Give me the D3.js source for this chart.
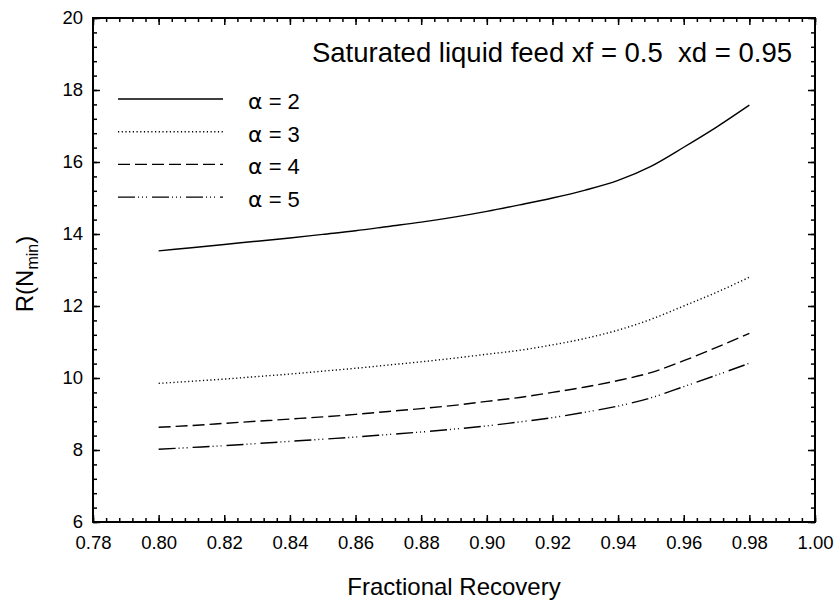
<!DOCTYPE html>
<meta charset="utf-8">
<style>
  body { margin: 0; background: #fff; }
  svg text { font-family: "Liberation Sans", Arial, sans-serif; fill: #000; }
</style>
<script src="https://d3js.org/d3.v7.min.js"></script>
<div id="chart"></div>
<script>
// data
var recovery = [0.80, 0.81, 0.82, 0.83, 0.84, 0.85, 0.86, 0.87, 0.88, 0.89,
                0.90, 0.91, 0.92, 0.93, 0.94, 0.95, 0.96, 0.97, 0.98];
var alpha2 = [13.53, 13.62, 13.71, 13.80, 13.89, 13.99, 14.09, 14.21, 14.33, 14.47,
              14.63, 14.81, 15.00, 15.22, 15.49, 15.88, 16.41, 16.97, 17.58];
var alpha3 = [9.85, 9.91, 9.97, 10.04, 10.11, 10.19, 10.27, 10.36, 10.45, 10.55,
              10.66, 10.77, 10.92, 11.10, 11.33, 11.63, 12.00, 12.38, 12.80];
var alpha4 = [8.63, 8.68, 8.74, 8.80, 8.86, 8.92, 8.99, 9.07, 9.15, 9.24,
              9.35, 9.46, 9.60, 9.75, 9.93, 10.15, 10.48, 10.85, 11.24];
var alpha5 = [8.02, 8.07, 8.12, 8.18, 8.24, 8.30, 8.36, 8.43, 8.50, 8.58,
              8.67, 8.78, 8.90, 9.05, 9.22, 9.45, 9.76, 10.08, 10.41];
var alphaValues = ["2", "3", "4", "5"];
var xTicks = [0.78, 0.80, 0.82, 0.84, 0.86, 0.88, 0.90, 0.92, 0.94, 0.96, 0.98, 1.00];
var yTicks = [6, 8, 10, 12, 14, 16, 18, 20];
var titleText = "Saturated liquid feed xf = 0.5  xd = 0.95";

var series = [alpha2, alpha3, alpha4, alpha5];
var dashes = [null, "1.2,2.5", "12,5", "17,3,1,3,1,3,1,5"];

var W = 836, H = 601;
var m = {left: 93, right: 815, top: 18, bottom: 522};

var svg = d3.select("#chart").append("svg")
  .attr("width", W).attr("height", H);

var x = d3.scaleLinear().domain([0.78, 1.0]).range([m.left, m.right]);
var y = d3.scaleLinear().domain([6, 20]).range([m.bottom, m.top]);

// minor ticks
var xMinor = d3.range(0, 56).map(function(i) { return 0.78 + i * 0.004; });
var yMinor = d3.range(0, 36).map(function(i) { return 6 + i * 0.4; });

function styleAxis(g) {
  g.select(".domain").remove();
  g.selectAll(".tick line").attr("stroke", "#000").attr("stroke-width", 1.5);
  g.selectAll(".tick text").style("font-size", "18.5px")
    .style("font-family", "'Liberation Sans', Arial, sans-serif");
}

// bottom
svg.append("g").attr("transform", "translate(0," + m.bottom + ")")
  .call(d3.axisBottom(x).tickValues(xMinor).tickSize(-4).tickFormat(""))
  .call(styleAxis);
svg.append("g").attr("transform", "translate(0," + m.bottom + ")")
  .call(d3.axisBottom(x).tickValues(xTicks).tickSize(-7).tickPadding(14).tickFormat(d3.format(".2f")))
  .call(styleAxis);
// top
svg.append("g").attr("transform", "translate(0," + m.top + ")")
  .call(d3.axisTop(x).tickValues(xMinor).tickSize(-4).tickFormat(""))
  .call(styleAxis);
svg.append("g").attr("transform", "translate(0," + m.top + ")")
  .call(d3.axisTop(x).tickValues(xTicks).tickSize(-7).tickFormat(""))
  .call(styleAxis);
// left
svg.append("g").attr("transform", "translate(" + m.left + ",0)")
  .call(d3.axisLeft(y).tickValues(yMinor).tickSize(-4).tickFormat(""))
  .call(styleAxis);
svg.append("g").attr("transform", "translate(" + m.left + ",0)")
  .call(d3.axisLeft(y).tickValues(yTicks).tickSize(-7).tickPadding(10).tickFormat(d3.format("d")))
  .call(styleAxis);
// right
svg.append("g").attr("transform", "translate(" + m.right + ",0)")
  .call(d3.axisRight(y).tickValues(yMinor).tickSize(-4).tickFormat(""))
  .call(styleAxis);
svg.append("g").attr("transform", "translate(" + m.right + ",0)")
  .call(d3.axisRight(y).tickValues(yTicks).tickSize(-7).tickFormat(""))
  .call(styleAxis);

// frame
svg.append("rect")
  .attr("x", m.left).attr("y", m.top)
  .attr("width", m.right - m.left).attr("height", m.bottom - m.top)
  .attr("fill", "none").attr("stroke", "#000").attr("stroke-width", 2);

// curves
var line = d3.line()
  .x(function(d, i) { return x(recovery[i]); })
  .y(function(d) { return y(d); })
  .curve(d3.curveMonotoneX);

series.forEach(function(s, k) {
  svg.append("path")
    .datum(s)
    .attr("d", line)
    .attr("fill", "none")
    .attr("stroke", "#000")
    .attr("stroke-width", 1.4)
    .attr("stroke-dasharray", dashes[k]);
});

// legend
var legend = svg.append("g");
alphaValues.forEach(function(v, k) {
  var ly = 99 + k * 32.7;
  legend.append("line")
    .attr("x1", 118).attr("x2", 223)
    .attr("y1", ly).attr("y2", ly)
    .attr("stroke", "#000").attr("stroke-width", 1.4)
    .attr("stroke-dasharray", dashes[k]);
  var t = legend.append("text")
    .attr("x", 248).attr("y", ly + 10)
    .style("font-size", "22px");
  t.append("tspan").style("font-family", "'DejaVu Sans', sans-serif").text("\u03b1");
  t.append("tspan").text(" = " + v);
});

// title inside plot
svg.append("text")
  .attr("x", 792).attr("y", 62)
  .attr("text-anchor", "end")
  .style("font-size", "27.5px")
  .style("white-space", "pre")
  .text(titleText);

// axis titles
svg.append("text")
  .attr("x", (m.left + m.right) / 2).attr("y", 595)
  .attr("text-anchor", "middle")
  .style("font-size", "24px")
  .text("Fractional Recovery");

var yl = svg.append("text")
  .attr("transform", "translate(33," + ((m.top + m.bottom) / 2 + 4) + ") rotate(-90)")
  .attr("text-anchor", "middle")
  .style("font-size", "24px");
yl.append("tspan").text("R(N");
yl.append("tspan").attr("dy", 5).style("font-size", "16px").text("min");
yl.append("tspan").attr("dy", -5).text(")");
</script>
